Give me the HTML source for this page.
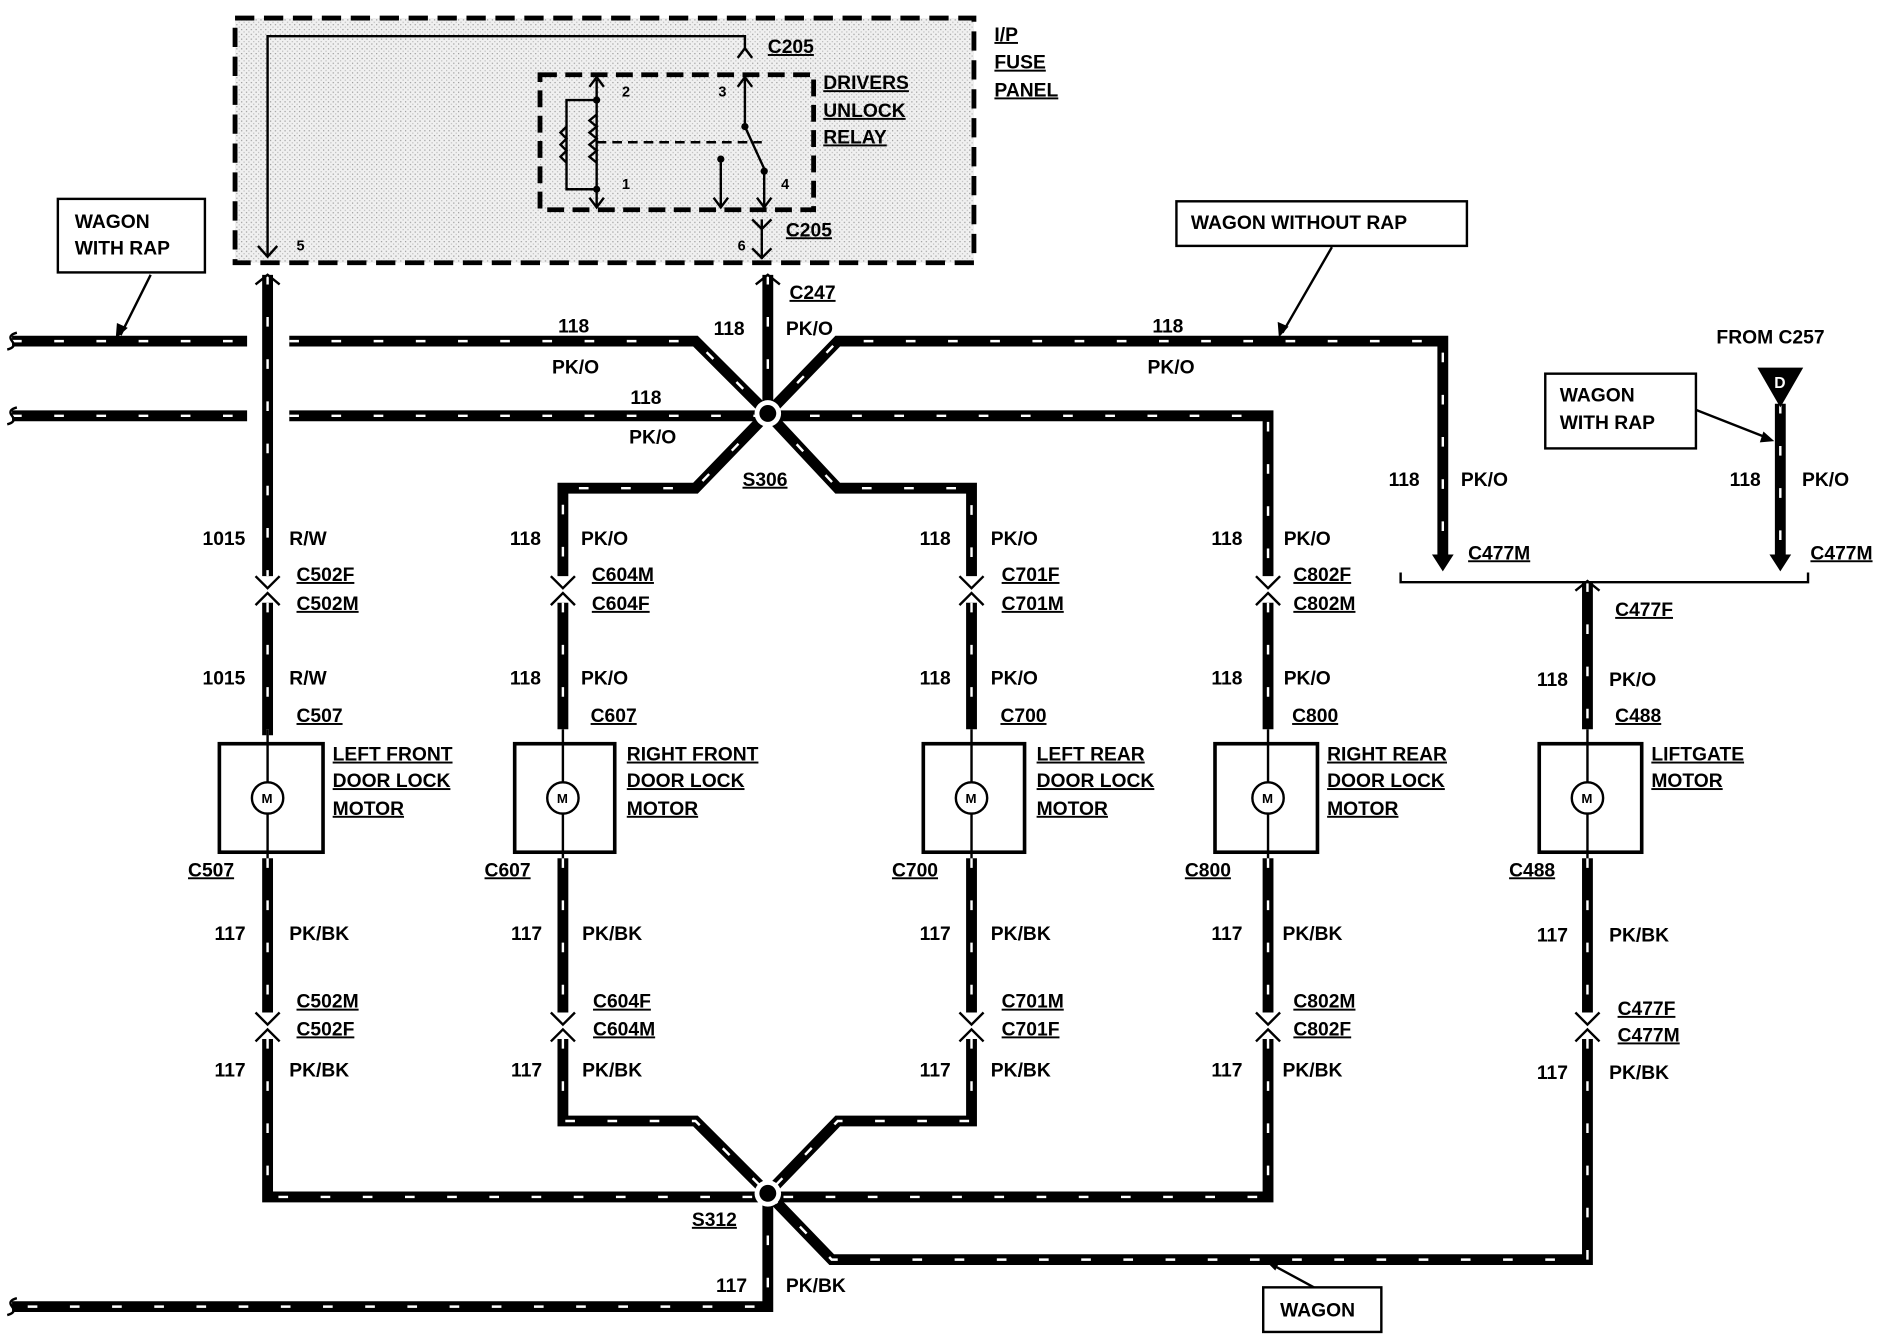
<!DOCTYPE html>
<html><head><meta charset="utf-8"><style>
html,body{margin:0;padding:0;background:#fff}
svg{display:block}
text{font-family:"Liberation Sans",Arial,sans-serif;font-weight:bold;font-size:16px;fill:#000}
.u{text-decoration:underline}
.w{stroke:#000;stroke-width:9;fill:none}
.d{stroke:#fff;stroke-width:2;fill:none;stroke-dasharray:8 27}
.t{stroke:#000;stroke-width:2;fill:none}
</style></head><body>
<svg width="1890" height="1344" viewBox="0 0 1568 1115" preserveAspectRatio="none" xmlns="http://www.w3.org/2000/svg">
<defs>
<pattern id="g" width="4" height="4" patternUnits="userSpaceOnUse"><rect width="4" height="4" fill="#f0f0f0"/><rect width="1" height="1" fill="#999"/><rect x="2" y="2" width="1" height="1" fill="#bbb"/></pattern>
</defs>
<rect x="195" y="15" width="613" height="203" fill="url(#g)" stroke="#000" stroke-width="4" stroke-dasharray="16 8"/>
<path class="t" d="M222 213 V30 H618 V40"/>
<path class="t" d="M214 204 L222 213 L230 204"/>
<path class="t" d="M612 48 L618 40 L624 48"/>
<rect x="448" y="62" width="227" height="112" fill="none" stroke="#000" stroke-width="4" stroke-dasharray="14 7"/>
<path class="t" d="M495 66 V172 M489 72 L495 64 L501 72 M489 164 L495 172 L501 164"/>
<circle cx="495" cy="83" r="3"/><circle cx="495" cy="157" r="3"/>
<path class="t" d="M495 83 H470 V157 H495 M495 95 l-6 5 6 5 -6 5 6 5 -6 5 6 5 -6 5 6 5 M470 105 l-5 5 5 5 -5 5 5 5 -5 5 5 5"/>
<path class="t" d="M495 118 H632" stroke-dasharray="8 5"/>
<path class="t" d="M618 64 V105 L634 140 V172 M612 72 L618 64 L624 72 M628 164 L634 172 L640 164 M598 132 V172 M592 164 L598 172 L604 164"/>
<circle cx="618" cy="105" r="3"/><circle cx="598" cy="132" r="3"/><circle cx="634" cy="142" r="3"/>
<path class="t" d="M632 182 V215 M624 182 L632 190 L640 182 M624 206 L632 214 L640 206"/>
<text x="516" y="80" style="font-size:12px">2</text><text x="596" y="80" style="font-size:12px">3</text>
<text x="516" y="157" style="font-size:12px">1</text><text x="648" y="157" style="font-size:12px">4</text>
<text x="246" y="208" style="font-size:12px">5</text><text x="612" y="208" style="font-size:12px">6</text>
<text x="637" y="44" class="u">C205</text><text x="652" y="196" class="u">C205</text>
<text x="683" y="74" class="u">DRIVERS</text><text x="683" y="97" class="u">UNLOCK</text><text x="683" y="119" class="u">RELAY</text>
<text x="825" y="34" class="u">I/P</text><text x="825" y="57" class="u">FUSE</text><text x="825" y="80" class="u">PANEL</text>

<path class="w" d="M10 283 H205 M10 345 H205 M240 283 H577 L637 343 M240 345 H637 M637 228 V343 M637 343 L695 283 H1197 V460 M637 343 L577 405 H467 V478 M637 343 L695 405 H806 V478 M637 345 H1052 V478 M1477 335 V460 M222 228 V478 M222 500 V610 M467 500 V605 M806 500 V605 M1052 500 V605 M1317 483 V605 M222 712 V840 M467 712 V840 M806 712 V840 M1052 712 V840 M1317 712 V840 M222 862 V993 H637 M467 862 V930 H577 L637 990 M806 862 V930 H695 L637 990 M1052 862 V993 H637 M1317 862 V1045 H690 L637 990 M637 990 V1084 H10"/>
<path class="d" d="M10 283 H205 M10 345 H205 M240 283 H577 L637 343 M240 345 H637 M637 228 V343 M637 343 L695 283 H1197 V460 M637 343 L577 405 H467 V478 M637 343 L695 405 H806 V478 M637 345 H1052 V478 M1477 335 V460 M222 228 V478 M222 500 V610 M467 500 V605 M806 500 V605 M1052 500 V605 M1317 483 V605 M222 712 V840 M467 712 V840 M806 712 V840 M1052 712 V840 M1317 712 V840 M222 862 V993 H637 M467 862 V930 H577 L637 990 M806 862 V930 H695 L637 990 M1052 862 V993 H637 M1317 862 V1045 H690 L637 990 M637 990 V1084 H10"/>
<path class="t" stroke-width="3" d="M14 276 q-8 2 -4 7 q4 5 -4 7 M14 338 q-8 2 -4 7 q4 5 -4 7 M14 1077 q-8 2 -4 7 q4 5 -4 7"/>
<path class="t" stroke-width="3" d="M212 236 L222 228 L232 236 M627 236 L637 228 L647 236"/>
<circle cx="637" cy="343" r="11" fill="#fff"/><circle cx="637" cy="343" r="7"/>
<circle cx="637" cy="990" r="11" fill="#fff"/><circle cx="637" cy="990" r="7"/>
<g class="t" stroke-width="3">
<path d="M212 478 L222 488 L232 478 M212 502 L222 492 L232 502"/>
<path d="M457 478 L467 488 L477 478 M457 502 L467 492 L477 502"/>
<path d="M796 478 L806 488 L816 478 M796 502 L806 492 L816 502"/>
<path d="M1042 478 L1052 488 L1062 478 M1042 502 L1052 492 L1062 502"/>
<path d="M212 840 L222 850 L232 840 M212 864 L222 854 L232 864"/>
<path d="M457 840 L467 850 L477 840 M457 864 L467 854 L477 864"/>
<path d="M796 840 L806 850 L816 840 M796 864 L806 854 L816 864"/>
<path d="M1042 840 L1052 850 L1062 840 M1042 864 L1052 854 L1062 864"/>
<path d="M1307 840 L1317 850 L1327 840 M1307 864 L1317 854 L1327 864"/>
<path d="M1307 490 L1317 482 L1327 490"/>
</g>
<path class="t" stroke-width="3" d="M1162 475 V483 H1500 V475"/>
<path d="M1188 460 H1206 L1197 474 Z M1468 460 H1486 L1477 474 Z"/>
<path d="M1458 305 H1496 L1477 338 Z"/>
<text x="1472" y="322" style="fill:#fff;font-size:13px">D</text>
<g class="t">
<rect x="182" y="617" width="86" height="90" stroke-width="3"/>
<rect x="427" y="617" width="83" height="90" stroke-width="3"/>
<rect x="766" y="617" width="84" height="90" stroke-width="3"/>
<rect x="1008" y="617" width="85" height="90" stroke-width="3"/>
<rect x="1277" y="617" width="85" height="90" stroke-width="3"/>
<path d="M222 605 V712 M467 605 V712 M806 605 V712 M1052 605 V712 M1317 605 V712"/>
</g>
<g fill="#fff" stroke="#000" stroke-width="2">
<circle cx="222" cy="662" r="13"/><circle cx="467" cy="662" r="13"/><circle cx="806" cy="662" r="13"/><circle cx="1052" cy="662" r="13"/><circle cx="1317" cy="662" r="13"/>
</g>
<text x="217" y="666" style="font-size:11px">M</text><text x="462" y="666" style="font-size:11px">M</text><text x="801" y="666" style="font-size:11px">M</text><text x="1047" y="666" style="font-size:11px">M</text><text x="1312" y="666" style="font-size:11px">M</text>
<g class="t">
<rect x="48" y="165" width="122" height="61"/>
<rect x="976" y="167" width="241" height="37"/>
<rect x="1282" y="310" width="125" height="62"/>
<rect x="1048" y="1068" width="98" height="37"/>
<path d="M125 228 L100 278 M1105 205 L1064 276 M1407 340 L1468 364 M1090 1068 L1055 1049"/>
</g>
<path d="M96 281 L97 268 L106 272 Z M1061 280 L1060 267 L1069 271 Z M1472 366 L1460 367 L1463 358 Z M1050 1046 L1062 1046 L1058 1054 Z"/>
<text x="62" y="189">WAGON</text><text x="62" y="211">WITH RAP</text>
<text x="988" y="190">WAGON WITHOUT RAP</text>
<text x="1294" y="333">WAGON</text><text x="1294" y="356">WITH RAP</text>
<text x="1062" y="1092">WAGON</text>
<text x="1424" y="285">FROM C257</text>
<text x="463" y="276">118</text><text x="458" y="310">PK/O</text>
<text x="523" y="335">118</text><text x="522" y="368">PK/O</text>
<text x="592" y="278">118</text><text x="655" y="248" class="u">C247</text><text x="652" y="278">PK/O</text>
<text x="956" y="276">118</text><text x="952" y="310">PK/O</text>
<text x="616" y="403" class="u">S306</text>

<text x="168" y="452">1015</text><text x="240" y="452">R/W</text><text x="246" y="482" class="u">C502F</text><text x="246" y="506" class="u">C502M</text>
<text x="168" y="568">1015</text><text x="240" y="568">R/W</text><text x="246" y="599" class="u">C507</text>

<text x="423" y="452">118</text><text x="482" y="452">PK/O</text><text x="491" y="482" class="u">C604M</text><text x="491" y="506" class="u">C604F</text>
<text x="423" y="568">118</text><text x="482" y="568">PK/O</text><text x="490" y="599" class="u">C607</text>

<text x="763" y="452">118</text><text x="822" y="452">PK/O</text><text x="831" y="482" class="u">C701F</text><text x="831" y="506" class="u">C701M</text>
<text x="763" y="568">118</text><text x="822" y="568">PK/O</text><text x="830" y="599" class="u">C700</text>

<text x="1005" y="452">118</text><text x="1065" y="452">PK/O</text><text x="1073" y="482" class="u">C802F</text><text x="1073" y="506" class="u">C802M</text>
<text x="1005" y="568">118</text><text x="1065" y="568">PK/O</text><text x="1072" y="599" class="u">C800</text>

<text x="1152" y="403">118</text><text x="1212" y="403">PK/O</text><text x="1218" y="464" class="u">C477M</text>
<text x="1435" y="403">118</text><text x="1495" y="403">PK/O</text><text x="1502" y="464" class="u">C477M</text>
<text x="1340" y="511" class="u">C477F</text><text x="1275" y="569">118</text><text x="1335" y="569">PK/O</text><text x="1340" y="599" class="u">C488</text>

<text x="276" y="631" class="u">LEFT FRONT</text><text x="276" y="653" class="u">DOOR LOCK</text><text x="276" y="676" class="u">MOTOR</text>
<text x="520" y="631" class="u">RIGHT FRONT</text><text x="520" y="653" class="u">DOOR LOCK</text><text x="520" y="676" class="u">MOTOR</text>
<text x="860" y="631" class="u">LEFT REAR</text><text x="860" y="653" class="u">DOOR LOCK</text><text x="860" y="676" class="u">MOTOR</text>
<text x="1101" y="631" class="u">RIGHT REAR</text><text x="1101" y="653" class="u">DOOR LOCK</text><text x="1101" y="676" class="u">MOTOR</text>
<text x="1370" y="631" class="u">LIFTGATE</text><text x="1370" y="653" class="u">MOTOR</text>

<text x="156" y="727" class="u">C507</text><text x="402" y="727" class="u">C607</text><text x="740" y="727" class="u">C700</text><text x="983" y="727" class="u">C800</text><text x="1252" y="727" class="u">C488</text>

<text x="178" y="780">117</text><text x="240" y="780">PK/BK</text><text x="246" y="836" class="u">C502M</text><text x="246" y="859" class="u">C502F</text><text x="178" y="893">117</text><text x="240" y="893">PK/BK</text>
<text x="424" y="780">117</text><text x="483" y="780">PK/BK</text><text x="492" y="836" class="u">C604F</text><text x="492" y="859" class="u">C604M</text><text x="424" y="893">117</text><text x="483" y="893">PK/BK</text>
<text x="763" y="780">117</text><text x="822" y="780">PK/BK</text><text x="831" y="836" class="u">C701M</text><text x="831" y="859" class="u">C701F</text><text x="763" y="893">117</text><text x="822" y="893">PK/BK</text>
<text x="1005" y="780">117</text><text x="1064" y="780">PK/BK</text><text x="1073" y="836" class="u">C802M</text><text x="1073" y="859" class="u">C802F</text><text x="1005" y="893">117</text><text x="1064" y="893">PK/BK</text>
<text x="1275" y="781">117</text><text x="1335" y="781">PK/BK</text><text x="1342" y="842" class="u">C477F</text><text x="1342" y="864" class="u">C477M</text><text x="1275" y="895">117</text><text x="1335" y="895">PK/BK</text>

<text x="574" y="1017" class="u">S312</text><text x="594" y="1072">117</text><text x="652" y="1072">PK/BK</text>
</svg>
</body></html>
